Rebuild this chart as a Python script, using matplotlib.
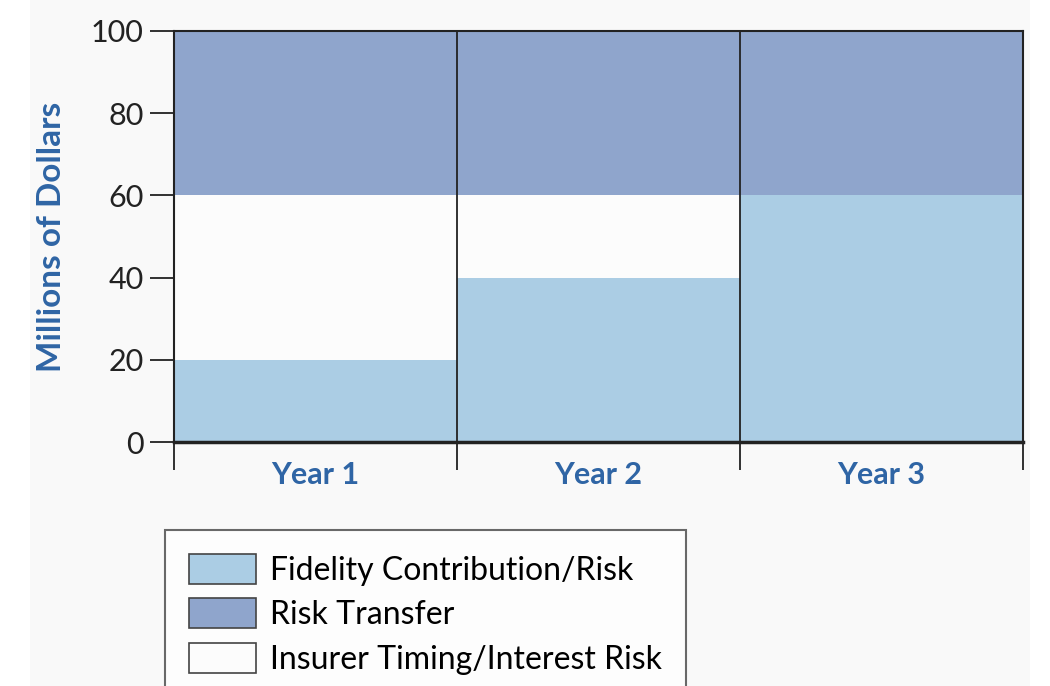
import numpy as np
import matplotlib
matplotlib.use('Agg')
import matplotlib.pyplot as plt
from matplotlib.patches import Rectangle

# data, millions of dollars
years = ['Year 1', 'Year 2', 'Year 3']
fidelity = [20, 40, 60]
timing = [40, 20, 0]
transfer = [40, 40, 40]

labels = ['Fidelity Contribution/Risk', 'Risk Transfer', 'Insurer Timing/Interest Risk']
c_fid = '#abcde4'
c_tra = '#8fa5cc'
c_tim = '#fcfcfc'
blue = '#2f65a5'

plt.rcParams['font.family'] = ['Lato', 'DejaVu Sans']

fig = plt.figure(figsize=(10.5, 6.86), dpi=100, facecolor='white')
# light grey page behind the chart
fig.patches.append(Rectangle((30/1050, 0), 1000/1050, 1, transform=fig.transFigure,
                             facecolor='#f9f9f9', edgecolor='none', zorder=-10))

ax = fig.add_axes([174/1050, 1-442/686, 849/1050, 411/686])
ax.set_facecolor('none')

x = np.arange(len(years))
fid = np.array(fidelity)
tim = np.array(timing)
tra = np.array(transfer)

b1 = ax.bar(x, fid, width=1.0, color=c_fid, edgecolor='none')
b3 = ax.bar(x, tim, width=1.0, bottom=fid, color=c_tim, edgecolor='none')
b2 = ax.bar(x, tra, width=1.0, bottom=fid+tim, color=c_tra, edgecolor='none')

# black separators between the years
for xv in x[1:]:
    ax.axvline(xv-0.5, color='#222222', lw=1.3)

ax.set_xlim(-0.5, len(years)-0.5)
ax.set_ylim(0, 100)

for s in ['left', 'right', 'top']:
    ax.spines[s].set_linewidth(1.5)
    ax.spines[s].set_color('#222222')
ax.spines['bottom'].set_linewidth(2.5)
ax.spines['bottom'].set_color('#222222')

ax.set_yticks([0, 20, 40, 60, 80, 100])
ax.tick_params(axis='y', length=17, width=1.3, color='#222222', labelsize=22,
               labelcolor='#222222', pad=5)

# x ticks at bar boundaries, labels centred
ax.set_xticks(np.arange(-0.5, len(years)), minor=False)
ax.set_xticklabels([])
ax.tick_params(axis='x', length=20, width=1.3, color='#222222')
ax.set_xticks(x, minor=True)
ax.set_xticklabels(years, minor=True, fontsize=22, fontweight='bold', color=blue)
ax.tick_params(axis='x', which='minor', length=0, pad=14)

ax.set_ylabel('Millions of Dollars', fontsize=24, fontweight='bold', color=blue, labelpad=18)

leg = ax.legend([b1, b2, b3], labels, loc='upper left',
                bbox_to_anchor=(165/1050, 1-530/686), bbox_transform=fig.transFigure,
                fontsize=23, frameon=True, fancybox=False, handlelength=2.1,
                handleheight=1.05, labelspacing=0.4, handletextpad=0.45,
                borderpad=0.75, borderaxespad=0)
leg.get_frame().set_edgecolor('#444444')
leg.get_frame().set_linewidth(1.5)
leg.get_frame().set_facecolor('white')
for h in leg.legend_handles:
    h.set_edgecolor('#444444')
    h.set_linewidth(1.2)

plt.savefig('out.png', dpi=100)
